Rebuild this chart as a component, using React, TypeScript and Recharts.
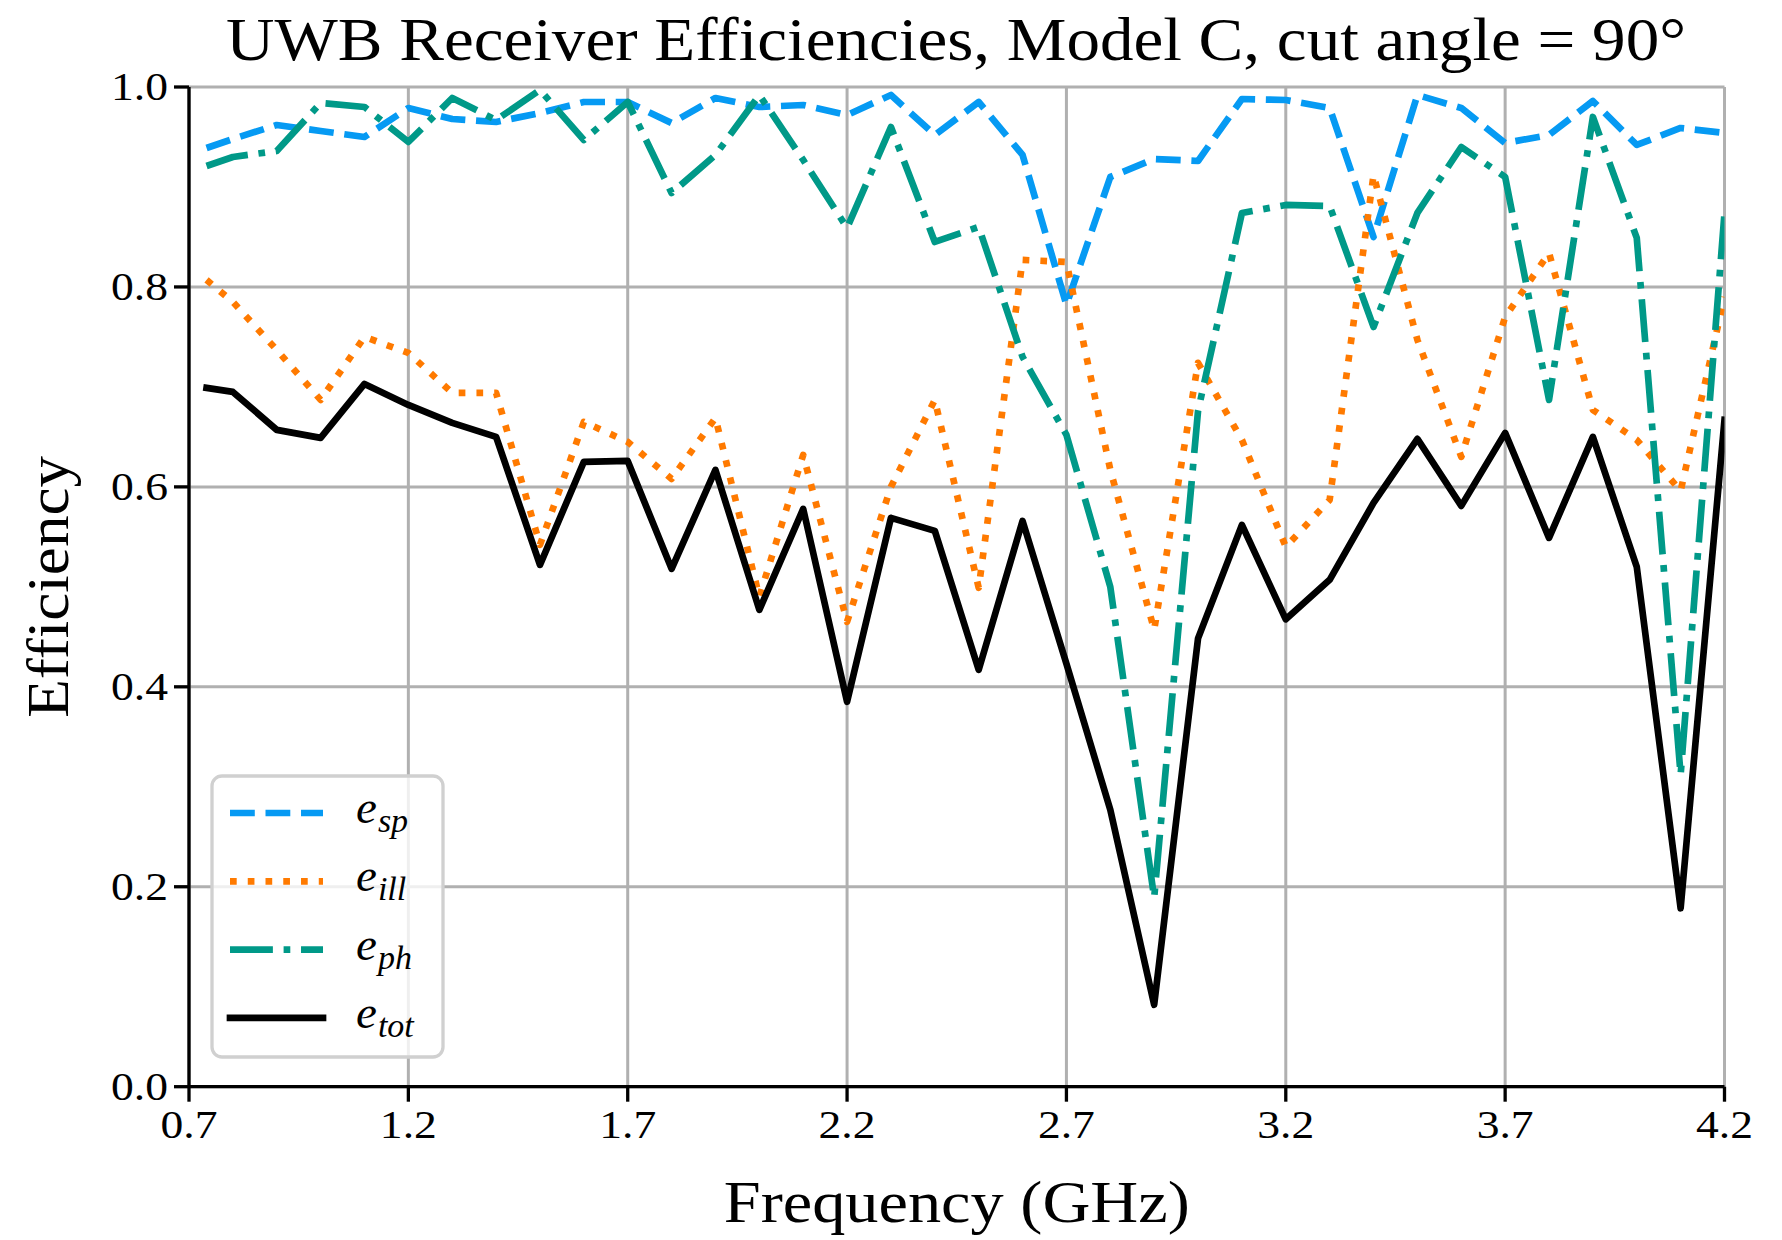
import React from 'react';
import { LineChart, Line, XAxis, YAxis, CartesianGrid, Label } from 'recharts';

// frequency points (GHz)
const freq = [
  0.74, 0.8, 0.9, 1.0, 1.1, 1.2, 1.3, 1.4, 1.5, 1.6, 1.7, 1.8, 1.9, 2.0, 2.1, 2.2, 2.3, 2.4,
  2.5, 2.6, 2.7, 2.8, 2.9, 3.0, 3.1, 3.2, 3.3, 3.4, 3.5, 3.6, 3.7, 3.8, 3.9, 4.0, 4.1, 4.2,
];

const eSp = [
  0.939, 0.948, 0.962, 0.956, 0.95, 0.979, 0.968, 0.965, 0.974, 0.985, 0.985, 0.964, 0.989, 0.98,
  0.982, 0.972, 0.992, 0.952, 0.985, 0.932, 0.782, 0.91, 0.928, 0.926, 0.988, 0.987, 0.979, 0.85,
  0.992, 0.979, 0.944, 0.952, 0.986, 0.942, 0.959, 0.954,
];

const eIll = [
  0.807, 0.785, 0.737, 0.687, 0.75, 0.734, 0.694, 0.694, 0.542, 0.665, 0.645, 0.608, 0.669, 0.49,
  0.632, 0.465, 0.6, 0.687, 0.499, 0.827, 0.825, 0.617, 0.457, 0.724, 0.647, 0.54, 0.587, 0.912,
  0.747, 0.63, 0.77, 0.834, 0.677, 0.647, 0.596, 0.79,
];

const ePh = [
  0.921, 0.93, 0.936, 0.984, 0.98, 0.945, 0.989, 0.967, 0.997, 0.947, 0.985, 0.894, 0.932, 0.992,
  0.927, 0.859, 0.96, 0.845, 0.86, 0.73, 0.652, 0.5, 0.189, 0.676, 0.874, 0.882, 0.881, 0.76,
  0.874, 0.94, 0.91, 0.687, 0.97, 0.849, 0.312, 0.874,
];

const eTot = [
  0.699, 0.695, 0.657, 0.649, 0.703, 0.682, 0.664, 0.65, 0.522, 0.625, 0.626, 0.518, 0.617, 0.477,
  0.578, 0.385, 0.569, 0.556, 0.417, 0.566, 0.423, 0.277, 0.082, 0.4485, 0.562, 0.4675, 0.507,
  0.584, 0.648, 0.581, 0.654, 0.549, 0.65, 0.52, 0.1785, 0.667,
];

const xTicks = [0.7, 1.2, 1.7, 2.2, 2.7, 3.2, 3.7, 4.2];
const yTicks = [0, 0.2, 0.4, 0.6, 0.8, 1.0];

const data = freq.map((f, i) => ({ f, sp: eSp[i], ill: eIll[i], ph: ePh[i], tot: eTot[i] }));

const FONT = "'Liberation Serif', 'DejaVu Serif', serif";
const LW = 6.7;
const BLUE = '#069AF3';
const ORANGE = '#FF7A00';
const TEAL = '#009988';

const DASHED = `${3.7 * LW} ${1.6 * LW}`;
const DOTTED = `${1 * LW} ${1.65 * LW}`;
const DASHDOT = `${6.4 * LW} ${1.6 * LW} ${1 * LW} ${1.6 * LW}`;

const legendItems = [
  { sub: 'sp', color: BLUE, dash: DASHED, cap: 'butt' },
  { sub: 'ill', color: ORANGE, dash: DOTTED, cap: 'butt' },
  { sub: 'ph', color: TEAL, dash: DASHDOT, cap: 'butt' },
  { sub: 'tot', color: '#000000', dash: undefined, cap: 'square' },
];

// tick label drawn a bit wider, like the LaTeX digits in the original
const XTick = (props: any) => {
  const { x, y, payload } = props;
  return (
    <text
      x={x}
      y={y + 30}
      textAnchor="middle"
      textLength={57}
      lengthAdjust="spacingAndGlyphs"
      style={{ fontFamily: FONT, fontSize: 39, fill: '#000' }}
    >
      {Number(payload.value).toFixed(1)}
    </text>
  );
};

const YTick = (props: any) => {
  const { x, y, payload } = props;
  return (
    <text
      x={x}
      y={y + 13}
      textAnchor="end"
      textLength={57}
      lengthAdjust="spacingAndGlyphs"
      style={{ fontFamily: FONT, fontSize: 39, fill: '#000' }}
    >
      {Number(payload.value).toFixed(1)}
    </text>
  );
};

export default function App() {
  return (
    <div style={{ position: 'absolute', left: 0, top: 0, width: 1782, height: 1240, background: '#fff' }}>
      <LineChart
        width={1782}
        height={1240}
        data={data}
        margin={{ top: 87, right: 57.5, bottom: 0, left: 0 }}
      >
        <CartesianGrid stroke="#b0b0b0" strokeWidth={3} />
        <XAxis
          dataKey="f"
          type="number"
          domain={[0.7, 4.2]}
          ticks={xTicks}
          interval={0}
          allowDataOverflow
          height={153.3}
          tick={<XTick />}
          tickSize={15}
          tickMargin={6}
          axisLine={{ stroke: '#000', strokeWidth: 3.3 }}
          tickLine={{ stroke: '#000', strokeWidth: 3.3 }}
        >
          <Label
            content={(props: any) => {
              const vb = props.viewBox || { x: 189, y: 1087, width: 1535 };
              return (
                <text
                  x={vb.x + vb.width / 2}
                  y={1222}
                  textAnchor="middle"
                  textLength={466}
                  lengthAdjust="spacingAndGlyphs"
                  style={{ fontFamily: FONT, fontSize: 60, fill: '#000' }}
                >
                  Frequency (GHz)
                </text>
              );
            }}
          />
        </XAxis>
        <XAxis
          xAxisId="top"
          dataKey="f"
          type="number"
          orientation="top"
          domain={[0.7, 4.2]}
          ticks={xTicks}
          height={0}
          tick={false}
          tickLine={false}
          axisLine={{ stroke: '#000', strokeWidth: 3.3 }}
        />
        <YAxis
          type="number"
          domain={[0, 1]}
          ticks={yTicks}
          interval={0}
          allowDataOverflow
          width={189}
          tick={<YTick />}
          tickSize={15}
          tickMargin={6}
          axisLine={{ stroke: '#000', strokeWidth: 3.3 }}
          tickLine={{ stroke: '#000', strokeWidth: 3.3 }}
        >
          <Label
            content={(props: any) => {
              const vb = props.viewBox || { x: 0, y: 87, height: 1000 };
              const cx = vb.x + 68;
              const cy = vb.y + vb.height / 2;
              return (
                <text
                  x={cx}
                  y={cy}
                  transform={`rotate(-90, ${cx}, ${cy})`}
                  textAnchor="middle"
                  textLength={262}
                  lengthAdjust="spacingAndGlyphs"
                  style={{ fontFamily: FONT, fontSize: 60, fill: '#000' }}
                >
                  Efficiency
                </text>
              );
            }}
          />
        </YAxis>
        <YAxis
          yAxisId="right"
          orientation="right"
          type="number"
          domain={[0, 1]}
          ticks={yTicks}
          width={0}
          tick={false}
          tickLine={false}
          axisLine={{ stroke: '#000', strokeWidth: 3.3 }}
        />
        <Line
          type="linear"
          dataKey="sp"
          stroke={BLUE}
          strokeWidth={LW}
          strokeDasharray={DASHED}
          strokeLinejoin="round"
          dot={false}
          activeDot={false}
          isAnimationActive={false}
        />
        <Line
          type="linear"
          dataKey="ill"
          stroke={ORANGE}
          strokeWidth={LW}
          strokeDasharray={DOTTED}
          strokeLinejoin="round"
          dot={false}
          activeDot={false}
          isAnimationActive={false}
        />
        <Line
          type="linear"
          dataKey="ph"
          stroke={TEAL}
          strokeWidth={LW}
          strokeDasharray={DASHDOT}
          strokeLinejoin="round"
          dot={false}
          activeDot={false}
          isAnimationActive={false}
        />
        <Line
          type="linear"
          dataKey="tot"
          stroke="#000"
          strokeWidth={LW}
          strokeLinecap="square"
          strokeLinejoin="round"
          dot={false}
          activeDot={false}
          isAnimationActive={false}
        />
      </LineChart>

      {/* title + legend overlay */}
      <svg
        width={1782}
        height={1240}
        style={{ position: 'absolute', left: 0, top: 0, pointerEvents: 'none' }}
      >
        <text
          x={956}
          y={60}
          textAnchor="middle"
          textLength={1460}
          lengthAdjust="spacingAndGlyphs"
          style={{ fontFamily: FONT, fontSize: 61, fill: '#000' }}
        >
          UWB Receiver Efficiencies, Model C, cut angle = 90°
        </text>
        <rect
          x={212}
          y={776}
          width={231}
          height={281}
          rx={10}
          ry={10}
          fill="rgba(255,255,255,0.8)"
          stroke="#d0d0d0"
          strokeWidth={3.3}
        />
        {legendItems.map((it, i) => {
          const y = 813 + i * 68.3;
          return (
            <g key={it.sub}>
              <line
                x1={230}
                x2={323}
                y1={y}
                y2={y}
                stroke={it.color}
                strokeWidth={LW}
                strokeDasharray={it.dash}
                strokeLinecap={it.cap as any}
              />
              <text
                x={356}
                y={y + 10}
                style={{ fontFamily: FONT, fontSize: 47, fontStyle: 'italic', fill: '#000' }}
              >
                e
                <tspan dx={1} dy={9} style={{ fontSize: 34 }}>
                  {it.sub}
                </tspan>
              </text>
            </g>
          );
        })}
      </svg>
    </div>
  );
}
